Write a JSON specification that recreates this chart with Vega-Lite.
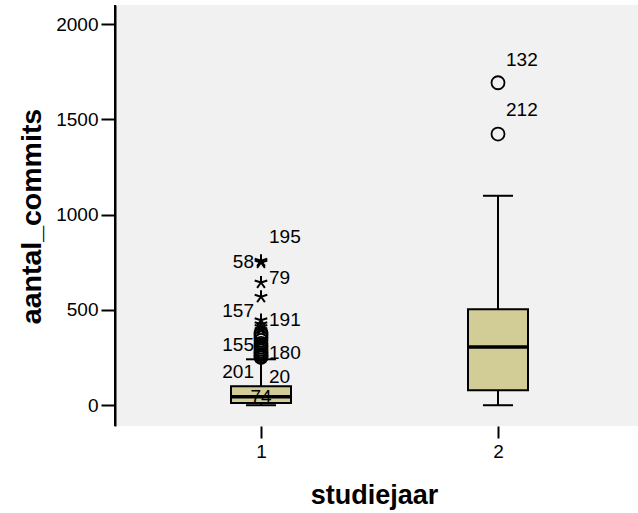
{
  "$schema": "https://vega.github.io/schema/vega-lite/v6.json",
  "autosize": "none",
  "padding": {"left": 115, "top": 5, "right": 0, "bottom": 87},
  "width": 523,
  "height": 421,
  "background": "white",
  "config": {
    "view": {"stroke": null, "fill": "#f0f1f0"},
    "font": "Liberation Sans"
  },
  "datasets": {
    "boxes": [
      {"studiejaar": "1", "lower": 0, "q1": 12, "median": 45, "q3": 100, "upper": 241},
      {"studiejaar": "2", "lower": 0, "q1": 79, "median": 306, "q3": 504, "upper": 1099}
    ],
    "points": [
      {"studiejaar": "1", "aantal_commits": 250, "type": "outlier"},
      {"studiejaar": "1", "aantal_commits": 258, "type": "outlier"},
      {"studiejaar": "1", "aantal_commits": 266, "type": "outlier"},
      {"studiejaar": "1", "aantal_commits": 275, "type": "outlier"},
      {"studiejaar": "1", "aantal_commits": 285, "type": "outlier"},
      {"studiejaar": "1", "aantal_commits": 295, "type": "outlier"},
      {"studiejaar": "1", "aantal_commits": 305, "type": "outlier"},
      {"studiejaar": "1", "aantal_commits": 315, "type": "outlier"},
      {"studiejaar": "1", "aantal_commits": 325, "type": "outlier"},
      {"studiejaar": "1", "aantal_commits": 340, "type": "outlier"},
      {"studiejaar": "1", "aantal_commits": 355, "type": "outlier"},
      {"studiejaar": "1", "aantal_commits": 370, "type": "outlier"},
      {"studiejaar": "1", "aantal_commits": 380, "type": "outlier"},
      {"studiejaar": "1", "aantal_commits": 395, "type": "extreme"},
      {"studiejaar": "1", "aantal_commits": 410, "type": "extreme"},
      {"studiejaar": "1", "aantal_commits": 425, "type": "extreme"},
      {"studiejaar": "1", "aantal_commits": 446, "type": "extreme"},
      {"studiejaar": "1", "aantal_commits": 569, "type": "extreme"},
      {"studiejaar": "1", "aantal_commits": 644, "type": "extreme"},
      {"studiejaar": "1", "aantal_commits": 749, "type": "extreme"},
      {"studiejaar": "1", "aantal_commits": 758, "type": "extreme"},
      {"studiejaar": "2", "aantal_commits": 1692, "type": "outlier"},
      {"studiejaar": "2", "aantal_commits": 1423, "type": "outlier"}
    ],
    "labels": [
      {"studiejaar": "1", "case": "195", "at": 882, "side": "right"},
      {"studiejaar": "1", "case": "58", "at": 751, "side": "left"},
      {"studiejaar": "1", "case": "79", "at": 667, "side": "right"},
      {"studiejaar": "1", "case": "157", "at": 493, "side": "left"},
      {"studiejaar": "1", "case": "191", "at": 446, "side": "right"},
      {"studiejaar": "1", "case": "155", "at": 315, "side": "left"},
      {"studiejaar": "1", "case": "180", "at": 273, "side": "right"},
      {"studiejaar": "1", "case": "201", "at": 173, "side": "left"},
      {"studiejaar": "1", "case": "20", "at": 147, "side": "right"},
      {"studiejaar": "1", "case": "74", "at": 42, "side": "center"},
      {"studiejaar": "2", "case": "132", "at": 1811, "side": "right"},
      {"studiejaar": "2", "case": "212", "at": 1549, "side": "right"}
    ]
  },
  "encoding": {
    "x": {
      "field": "studiejaar",
      "type": "ordinal",
      "scale": {"type": "point", "domain": ["1", "2"], "range": [146, 383], "padding": 0},
      "axis": {
        "title": "studiejaar",
        "titleFont": "Liberation Sans",
        "titleFontSize": 27,
        "titleFontWeight": "bold",
        "titleColor": "black",
        "titleX": 259,
        "titleY": 77,
        "titleAlign": "center",
        "titleBaseline": "alphabetic",
        "labelAngle": 0,
        "labelFontSize": 19,
        "labelColor": "black",
        "labelPadding": 4,
        "tickSize": 12,
        "tickWidth": 2,
        "tickColor": "black",
        "domain": false,
        "grid": false
      }
    }
  },
  "layer": [
    {
      "data": {"name": "boxes"},
      "mark": {"type": "rule", "color": "black", "strokeWidth": 2},
      "encoding": {
        "y": {
          "field": "lower",
          "type": "quantitative",
          "scale": {"domain": [-109, 2100], "nice": false, "zero": false},
          "axis": {
            "title": "aantal_commits",
            "titleFont": "Liberation Sans",
            "titleFontSize": 28.5,
            "titleFontWeight": "bold",
            "titleColor": "black",
            "titleAngle": -90,
            "titleX": -75,
            "titleY": 211,
            "titleAlign": "center",
            "titleBaseline": "alphabetic",
            "values": [0, 500, 1000, 1500, 2000],
            "format": "d",
            "labelFontSize": 19,
            "labelColor": "black",
            "labelPadding": 3,
            "tickSize": 14,
            "tickWidth": 2,
            "tickColor": "black",
            "domainColor": "black",
            "domainWidth": 2,
            "grid": false
          }
        },
        "y2": {"field": "upper"}
      }
    },
    {
      "data": {"name": "boxes"},
      "mark": {"type": "tick", "color": "black", "opacity": 1, "size": 30, "thickness": 2},
      "encoding": {"y": {"field": "lower", "type": "quantitative"}}
    },
    {
      "data": {"name": "boxes"},
      "mark": {"type": "tick", "color": "black", "opacity": 1, "size": 30, "thickness": 2},
      "encoding": {"y": {"field": "upper", "type": "quantitative"}}
    },
    {
      "data": {"name": "boxes"},
      "mark": {"type": "bar", "width": 60, "fill": "#d2cc97", "opacity": 1, "stroke": "black", "strokeWidth": 2},
      "encoding": {
        "y": {"field": "q1", "type": "quantitative"},
        "y2": {"field": "q3"}
      }
    },
    {
      "data": {"name": "boxes"},
      "mark": {"type": "tick", "color": "black", "opacity": 1, "size": 60, "thickness": 3.5},
      "encoding": {"y": {"field": "median", "type": "quantitative"}}
    },
    {
      "data": {"name": "points"},
      "transform": [{"filter": "datum.type === 'outlier'"}],
      "mark": {"type": "point", "shape": "circle", "filled": false, "stroke": "black", "strokeWidth": 1.8, "size": 169, "opacity": 1},
      "encoding": {"y": {"field": "aantal_commits", "type": "quantitative"}}
    },
    {
      "data": {"name": "points"},
      "transform": [{"filter": "datum.type === 'extreme'"}],
      "mark": {"type": "point", "shape": "M0,0L0,-1M0,0L0.951,-0.309M0,0L0.588,0.809M0,0L-0.588,0.809M0,0L-0.951,-0.309", "filled": false, "stroke": "black", "strokeWidth": 2, "size": 175, "opacity": 1},
      "encoding": {"y": {"field": "aantal_commits", "type": "quantitative"}}
    },
    {
      "data": {"name": "labels"},
      "transform": [{"filter": "datum.side === 'right'"}],
      "mark": {"type": "text", "align": "left", "baseline": "middle", "dx": 8, "fontSize": 19, "color": "black"},
      "encoding": {"y": {"field": "at", "type": "quantitative"}, "text": {"field": "case"}}
    },
    {
      "data": {"name": "labels"},
      "transform": [{"filter": "datum.side === 'left'"}],
      "mark": {"type": "text", "align": "right", "baseline": "middle", "dx": -7, "fontSize": 19, "color": "black"},
      "encoding": {"y": {"field": "at", "type": "quantitative"}, "text": {"field": "case"}}
    },
    {
      "data": {"name": "labels"},
      "transform": [{"filter": "datum.side === 'center'"}],
      "mark": {"type": "text", "align": "center", "baseline": "middle", "fontSize": 19, "color": "black"},
      "encoding": {"y": {"field": "at", "type": "quantitative"}, "text": {"field": "case"}}
    },
    {
      "data": {"values": [{"edge": 2100}, {"edge": -109}]},
      "mark": {"type": "rule", "color": "black", "strokeWidth": 2},
      "encoding": {"y": {"field": "edge", "type": "quantitative"}}
    }
  ]
}
